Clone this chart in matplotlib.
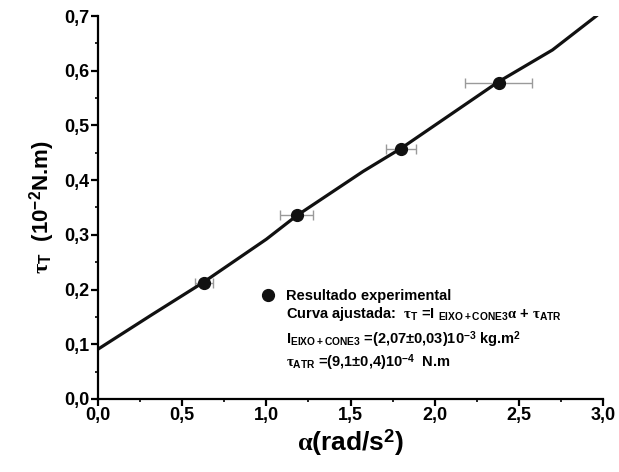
import matplotlib
matplotlib.use('Agg')
import matplotlib.pyplot as plt
from matplotlib.ticker import MultipleLocator, FuncFormatter

plt.rcParams['font.family'] = 'Liberation Sans'
plt.rcParams['font.weight'] = 'bold'
plt.rcParams['axes.labelweight'] = 'bold'
plt.rcParams['mathtext.fontset'] = 'custom'
plt.rcParams['mathtext.rm'] = 'Liberation Sans:bold'
plt.rcParams['mathtext.bf'] = 'Liberation Sans:bold'
plt.rcParams['mathtext.it'] = 'Liberation Serif'

# pontos experimentais
alpha_exp = [0.63, 1.18, 1.80, 2.38]
tau_exp = [0.212, 0.336, 0.457, 0.577]
alpha_err = [0.055, 0.10, 0.09, 0.20]

# curva ajustada
alpha_fit = [0.0, 0.32, 0.62, 1.0, 1.18, 1.575, 1.80, 2.38, 2.70, 2.96]
tau_fit = [0.091, 0.154, 0.212, 0.292, 0.335, 0.416, 0.458, 0.580, 0.638, 0.700]

x_ticks = [0.0, 0.5, 1.0, 1.5, 2.0, 2.5, 3.0]
y_ticks = [0.0, 0.1, 0.2, 0.3, 0.4, 0.5, 0.6, 0.7]


def comma(v, pos):
    return f'{v:.1f}'.replace('.', ',')


def main():
    fig = plt.figure(figsize=(6.19, 4.72), dpi=100)
    ax = fig.add_axes([0.1583, 0.1547, 0.8159, 0.8114])

    ax.plot(alpha_fit, tau_fit, color='#111111', lw=2.3, zorder=2)
    ax.errorbar(alpha_exp, tau_exp, xerr=alpha_err, fmt='none',
                ecolor='#9a9a9a', elinewidth=1.0, capsize=3.5, capthick=1.0,
                zorder=1)
    ax.plot(alpha_exp, tau_exp, 'o', color='#111111', ms=8.5, zorder=3)

    ax.set_xlim(0, 3.0)
    ax.set_ylim(0, 0.7)
    ax.set_xticks(x_ticks)
    ax.set_yticks(y_ticks)
    ax.xaxis.set_minor_locator(MultipleLocator(0.25))
    ax.yaxis.set_minor_locator(MultipleLocator(0.05))
    ax.xaxis.set_major_formatter(FuncFormatter(comma))
    ax.yaxis.set_major_formatter(FuncFormatter(comma))

    for side in ['top', 'right']:
        ax.spines[side].set_visible(False)
    for side in ['left', 'bottom']:
        ax.spines[side].set_linewidth(1.6)

    ax.tick_params(which='major', direction='out', length=5, width=1.6,
                   labelsize=13, pad=1)
    ax.tick_params(which='minor', direction='out', length=2.5, width=1.2)

    ax.set_xlabel(r'$\alpha$(rad/s$^{\mathrm{2}}$)', fontsize=19,
                  fontweight='bold', labelpad=2)
    ax.set_ylabel(r'$\tau_{\mathrm{T}}$  (10$^{\mathrm{-2}}$N.m)',
                  fontsize=16, fontweight='bold', labelpad=5)

    # legenda
    ax.plot([1.01], [0.190], 'o', color='#111111', ms=8.5, clip_on=False)
    fs = 10.5
    ax.text(1.117, 0.181, 'Resultado experimental', fontsize=fs)
    ax.text(1.117, 0.148,
            r'Curva ajustada:  $\tau_{\mathrm{T}}$ =I $_{\mathrm{EIXO+CONE3}}$'
            r'$\alpha$ + $\tau_{\mathrm{ATR}}$', fontsize=fs)
    ax.text(1.117, 0.1005,
            r'I$_{\mathrm{EIXO+CONE3}}$ =(2,07±0,03)10$^{\mathrm{-3}}$ kg.m$^{\mathrm{2}}$',
            fontsize=fs)
    ax.text(1.117, 0.0585,
            r'$\tau_{\mathrm{ATR}}$ =(9,1±0,4)10$^{\mathrm{-4}}$  N.m',
            fontsize=fs)

    fig.savefig('out.png', dpi=100)


if __name__ == "__main__":
    main()
